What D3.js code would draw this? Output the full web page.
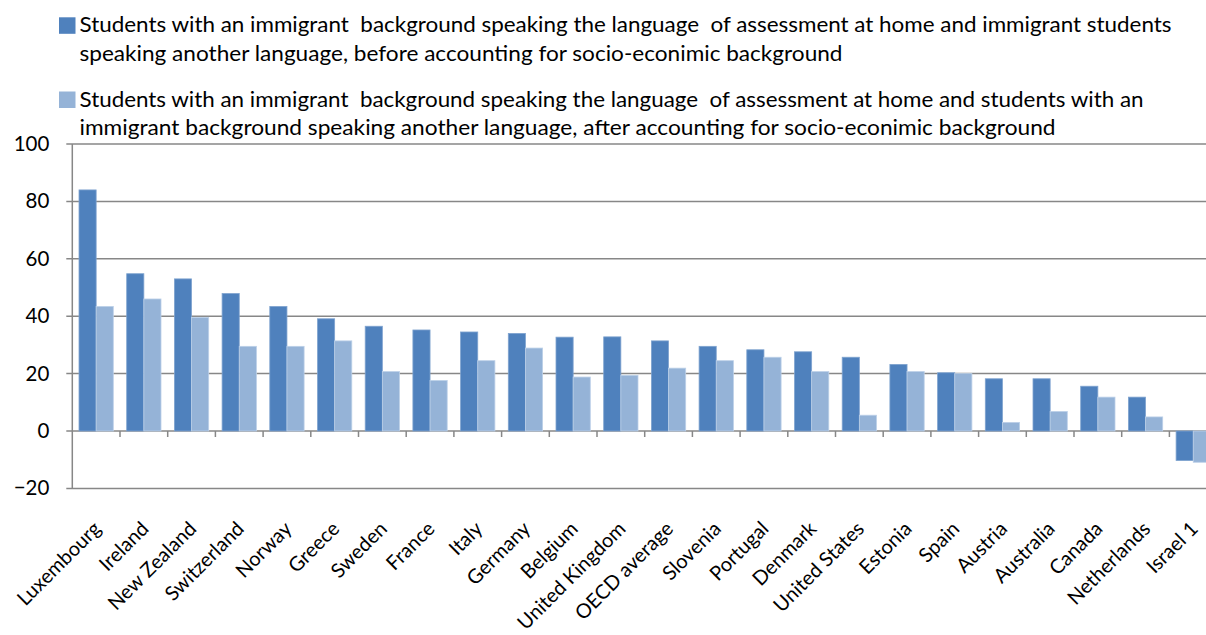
<!DOCTYPE html>
<html>
<head>
<meta charset="utf-8">
<script src="https://cdn.jsdelivr.net/npm/d3@7"></script>
<style>
  html, body { margin: 0; padding: 0; background: #fff; }
  svg { display: block; font-family: Lato, "Open Sans", sans-serif; }
  .legend text { white-space: pre; }
</style>
</head>
<body>
<svg id="chart" width="1206" height="635"></svg>
<script>
// Countries (in chart order)
const countries = [
  "Luxembourg", "Ireland", "New Zealand", "Switzerland", "Norway", "Greece",
  "Sweden", "France", "Italy", "Germany", "Belgium", "United Kingdom",
  "OECD average", "Slovenia", "Portugal", "Denmark", "United States",
  "Estonia", "Spain", "Austria", "Australia", "Canada", "Netherlands", "Israel 1"
];

// Score-point difference before accounting for socio-economic background
const beforeESCS = [
  84.0, 54.8, 53.0, 47.9, 43.4, 39.1,
  36.5, 35.2, 34.5, 34.0, 32.7, 32.8,
  31.4, 29.5, 28.3, 27.6, 25.7,
  23.2, 20.3, 18.2, 18.2, 15.6, 11.8, -10.3
];

// Score-point difference after accounting for socio-economic background
const afterESCS = [
  43.4, 46.0, 39.6, 29.5, 29.5, 31.4,
  20.7, 17.6, 24.5, 28.9, 18.8, 19.4,
  21.9, 24.5, 25.7, 20.7, 5.5,
  20.7, 20.0, 3.0, 6.8, 11.8, 4.9, -10.9
];

const yTicks = [-20, 0, 20, 40, 60, 80, 100];

const seriesNames = ["before", "after"];
const legendLines = [
  ["Students with an immigrant  background speaking the language  of assessment at home and immigrant students",
   "speaking another language, before accounting for socio-econimic background"],
  ["Students with an immigrant  background speaking the language  of assessment at home and students with an",
   "immigrant background speaking another language, after accounting for socio-econimic background"]
];
const colors = ["#4F81BD", "#95B3D7"];

const rows = countries.map((c, i) => ({ country: c, before: beforeESCS[i], after: afterESCS[i] }));

const svg = d3.select("#chart");
const plotLeft = 72.3, plotTop = 144, plotBottom = 488.4;
const band = 47.7;
const plotRight = plotLeft + band * countries.length;

const x = d3.scaleBand().domain(countries).range([plotLeft, plotRight]).paddingInner(0).paddingOuter(0);
const gap = 13.4;
const xs = d3.scaleBand().domain(seriesNames).range([gap / 2, x.bandwidth() - gap / 2]).padding(0);
const y = d3.scaleLinear().domain([-20, 100]).range([plotBottom, plotTop]);

// Gridlines with short ticks on the left
const grid = svg.append("g");
grid.selectAll("line")
  .data(yTicks)
  .join("line")
  .attr("x1", plotLeft - 6).attr("x2", 1206)
  .attr("y1", d => y(d)).attr("y2", d => y(d))
  .attr("stroke", "#878787").attr("stroke-width", 1.5);

// Y axis
const yAxis = svg.append("g")
  .attr("transform", `translate(${plotLeft},0)`)
  .call(d3.axisLeft(y).tickValues(yTicks).tickSize(0).tickPadding(23));
yAxis.select(".domain").remove();
yAxis.selectAll("text")
  .attr("font-family", "Lato, 'Open Sans', sans-serif")
  .attr("font-size", 20.5)
  .attr("fill", "#000");
svg.append("line")
  .attr("x1", plotLeft).attr("x2", plotLeft)
  .attr("y1", plotTop).attr("y2", plotBottom)
  .attr("stroke", "#878787").attr("stroke-width", 1.5);

// Category tick marks on the zero line
svg.append("g").selectAll("line")
  .data(countries.slice(1))
  .join("line")
  .attr("x1", d => x(d)).attr("x2", d => x(d))
  .attr("y1", y(0)).attr("y2", y(0) + 6)
  .attr("stroke", "#878787").attr("stroke-width", 1.5);

// Bars
const groups = svg.append("g").selectAll("g")
  .data(rows)
  .join("g")
  .attr("transform", d => `translate(${x(d.country)},0)`);

groups.selectAll("rect")
  .data(d => seriesNames.map((k, i) => ({ key: k, value: d[k], i })))
  .join("rect")
  .attr("x", d => xs(d.key))
  .attr("width", xs.bandwidth())
  .attr("y", d => y(Math.max(0, d.value)))
  .attr("height", d => Math.abs(y(d.value) - y(0)))
  .attr("fill", d => colors[d.i])
  .attr("stroke", d => d.i === 0 ? "#7FA3CF" : "#BCD0E8")
  .attr("stroke-width", 0.8);

// Rotated category labels
svg.append("g").selectAll("text")
  .data(countries)
  .join("text")
  .attr("text-anchor", "end")
  .attr("transform", d => `translate(${x(d) + x.bandwidth() / 2 + 6},530) rotate(-45)`)
  .attr("font-size", 20)
  .attr("fill", "#000")
  .text(d => d);

// Legend
const legend = svg.append("g").attr("class", "legend");
const legendTop = [17.3, 91.5];
const lineWidths = [[1092, 763], [1064, 976]];
legendLines.forEach((lines, i) => {
  legend.append("rect")
    .attr("x", 59).attr("y", legendTop[i])
    .attr("width", 16.5).attr("height", 16.5)
    .attr("fill", colors[i]);
  lines.forEach((t, j) => {
    legend.append("text")
      .attr("x", 79.5)
      .attr("y", legendTop[i] + 15 + j * 28.5)
      .attr("font-size", 20.5)
      .attr("fill", "#000")
      .attr("textLength", lineWidths[i][j])
      .attr("lengthAdjust", "spacingAndGlyphs")
      .text(t);
  });
});
</script>
</body>
</html>
